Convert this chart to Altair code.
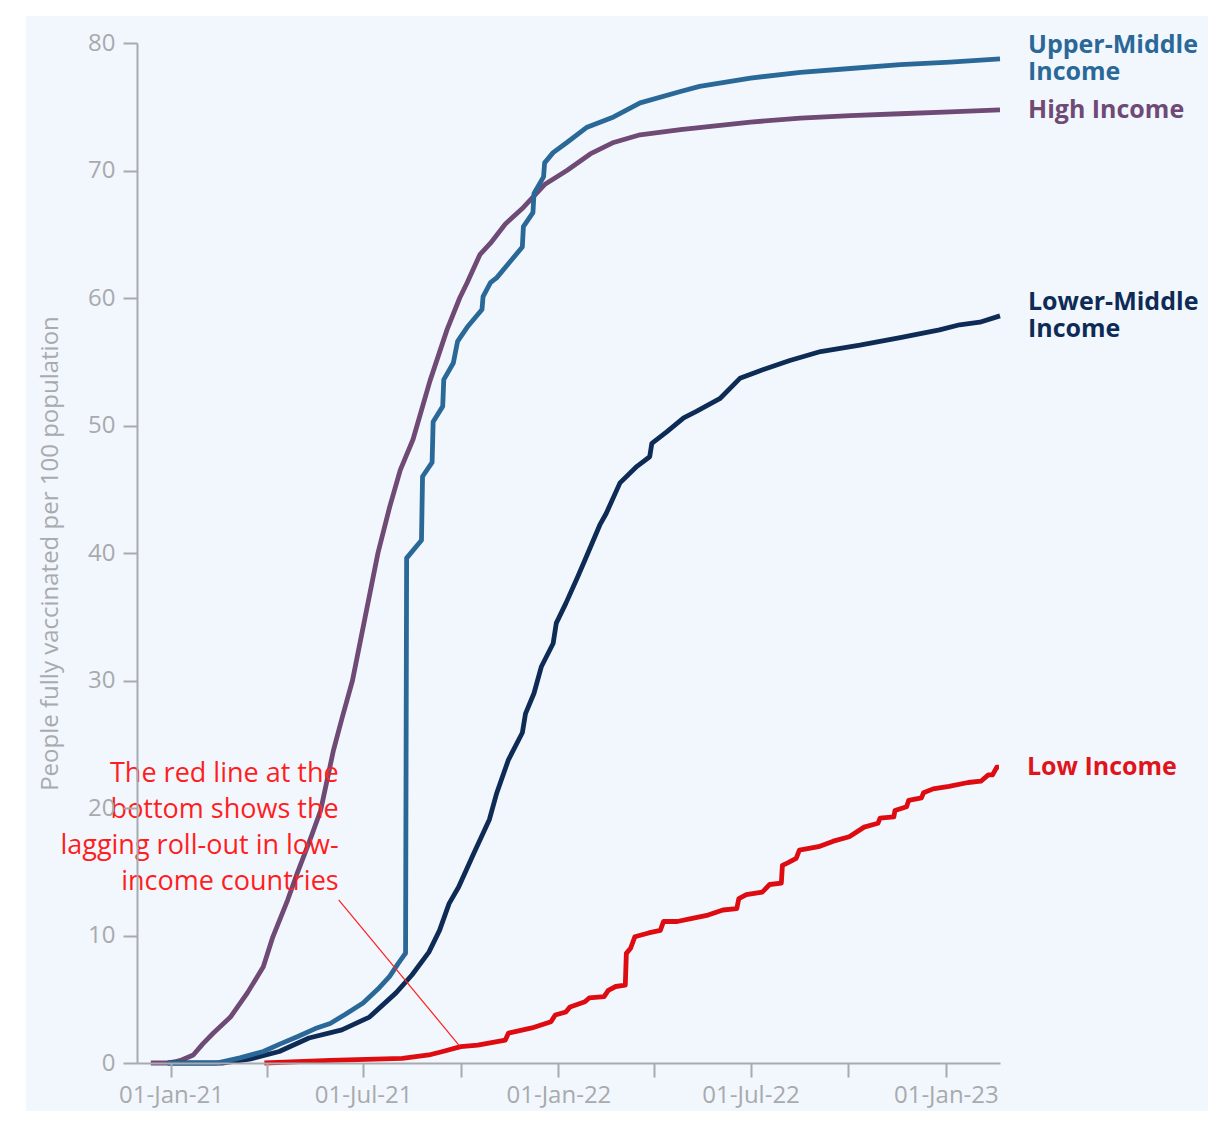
import altair as alt
import pandas as pd

# ---------------- data ----------------
high_dates = ["2020-12-13", "2020-12-29", "2021-01-05", "2021-01-10", "2021-01-22", "2021-01-31",
              "2021-02-10", "2021-02-26", "2021-03-14", "2021-03-29", "2021-04-07", "2021-04-21",
              "2021-04-30", "2021-05-12", "2021-05-22", "2021-06-03", "2021-06-11", "2021-06-21",
              "2021-07-03", "2021-07-15", "2021-07-26", "2021-08-05", "2021-08-17", "2021-09-02",
              "2021-09-18", "2021-09-30", "2021-10-07", "2021-10-19", "2021-10-29", "2021-11-12",
              "2021-11-29", "2021-12-19", "2022-01-09", "2022-01-31", "2022-02-22", "2022-03-19",
              "2022-04-26", "2022-07-01", "2022-08-17", "2022-10-03", "2022-11-19", "2023-01-05",
              "2023-02-21"]
high_vals = [0, 0, 0.1, 0.2, 0.63, 1.5,
             2.35, 3.6, 5.5, 7.55, 9.9, 12.8,
             14.9, 17.5, 19.8, 24.5, 27.0, 30.0,
             35.0, 40.0, 43.6, 46.5, 48.9, 53.5,
             57.5, 60.0, 61.2, 63.4, 64.3, 65.8,
             67.1, 68.9, 70.0, 71.3, 72.2, 72.8,
             73.2, 73.8, 74.1, 74.3, 74.45, 74.6,
             74.75]

upper_dates = ["2020-12-29", "2021-02-13", "2021-03-07", "2021-03-29", "2021-04-14", "2021-04-30",
               "2021-05-17", "2021-05-31", "2021-06-14", "2021-07-01", "2021-07-15", "2021-07-26",
               "2021-08-03", "2021-08-09", "2021-08-10", "2021-08-11", "2021-08-25", "2021-08-26",
               "2021-09-04", "2021-09-05", "2021-09-14", "2021-09-15", "2021-09-24", "2021-09-28",
               "2021-10-07", "2021-10-21", "2021-10-22", "2021-10-29", "2021-11-04", "2021-11-16",
               "2021-11-28", "2021-11-29", "2021-12-08", "2021-12-09", "2021-12-18", "2021-12-19",
               "2021-12-27", "2022-01-09", "2022-01-28", "2022-02-22", "2022-03-19", "2022-04-26",
               "2022-05-14", "2022-07-01", "2022-08-17", "2022-10-03", "2022-11-19", "2023-01-05",
               "2023-02-21"]
upper_vals = [0, 0, 0.4, 0.9, 1.5, 2.06,
              2.7, 3.1, 3.8, 4.7, 5.8, 6.8,
              7.8, 8.5, 8.6, 39.6, 41.0, 46.0,
              47.1, 50.3, 51.5, 53.6, 54.9, 56.6,
              57.7, 59.1, 60.1, 61.2, 61.6, 62.8,
              64.0, 65.6, 66.7, 68.2, 69.5, 70.6,
              71.4, 72.2, 73.4, 74.2, 75.3, 76.2,
              76.6, 77.25, 77.7, 78.0, 78.3, 78.5,
              78.75]

lower_dates = ["2020-12-29", "2021-02-18", "2021-03-16", "2021-04-13", "2021-05-11", "2021-06-11",
               "2021-07-07", "2021-08-01", "2021-08-16", "2021-09-01", "2021-09-11", "2021-09-20",
               "2021-09-29", "2021-10-13", "2021-10-28", "2021-11-04", "2021-11-15", "2021-11-28",
               "2021-12-01", "2021-12-09", "2021-12-16", "2021-12-27", "2021-12-30", "2022-01-08",
               "2022-01-19", "2022-01-26", "2022-02-09", "2022-02-15", "2022-02-28", "2022-03-16",
               "2022-03-28", "2022-03-30", "2022-04-13", "2022-04-29", "2022-05-11", "2022-06-02",
               "2022-06-21", "2022-07-10", "2022-08-07", "2022-09-05", "2022-10-12", "2022-11-19",
               "2022-12-26", "2023-01-14", "2023-02-02", "2023-02-21"]
lower_vals = [0, 0, 0.3, 0.9, 1.96, 2.6,
              3.6, 5.5, 6.9, 8.7, 10.4, 12.5,
              13.8, 16.4, 19.1, 21.2, 23.8, 25.9,
              27.4, 29.0, 31.1, 32.9, 34.5, 36.05,
              38.1, 39.45, 42.2, 43.1, 45.5, 46.8,
              47.55, 48.6, 49.5, 50.6, 51.1, 52.1,
              53.7, 54.3, 55.1, 55.8, 56.3, 56.9,
              57.5, 57.9, 58.1, 58.6]

low_dates = ["2021-03-30", "2021-05-31", "2021-08-07", "2021-09-01", "2021-09-14", "2021-10-01",
             "2021-10-17", "2021-11-12", "2021-11-15", "2021-12-07", "2021-12-25", "2021-12-29",
             "2022-01-08", "2022-01-12", "2022-01-26", "2022-01-30", "2022-02-13", "2022-02-17",
             "2022-02-24", "2022-03-05", "2022-03-06", "2022-03-10", "2022-03-14", "2022-03-27",
             "2022-04-07", "2022-04-10", "2022-04-23", "2022-05-07", "2022-05-22", "2022-06-05",
             "2022-06-18", "2022-06-20", "2022-06-27", "2022-07-12", "2022-07-19", "2022-07-30",
             "2022-07-31", "2022-08-05", "2022-08-13", "2022-08-16", "2022-09-03", "2022-09-17",
             "2022-10-02", "2022-10-16", "2022-10-29", "2022-10-31", "2022-11-13", "2022-11-14",
             "2022-11-25", "2022-11-27", "2022-12-09", "2022-12-11", "2022-12-20", "2023-01-04",
             "2023-01-22", "2023-02-03", "2023-02-10", "2023-02-14", "2023-02-18", "2023-02-20"]
low_vals = [0, 0.2, 0.37, 0.63, 0.9, 1.28,
            1.41, 1.8, 2.35, 2.75, 3.24, 3.76,
            4.0, 4.4, 4.8, 5.1, 5.2, 5.7,
            6.0, 6.1, 8.6, 9.0, 9.9, 10.2,
            10.4, 11.1, 11.1, 11.35, 11.6, 12.0,
            12.1, 12.9, 13.2, 13.4, 14.0, 14.1,
            15.5, 15.7, 16.05, 16.7, 16.97, 17.4,
            17.75, 18.5, 18.8, 19.2, 19.3, 19.8,
            20.1, 20.6, 20.8, 21.2, 21.5, 21.7,
            22.0, 22.1, 22.6, 22.6, 23.2, 23.2]

series_names = ["High Income", "Lower-Middle Income", "Upper-Middle Income", "Low Income"]
series_labels = ["High Income", "Lower-Middle\nIncome", "Upper-Middle\nIncome", "Low Income"]
series_lines = [1, 2, 2, 1]
series_colors = ["#6E4A75", "#0E2B56", "#2A6898", "#DE0B10"]
label_colors = ["#6E4A75", "#0E2B56", "#2A6898", "#E0141B"]

y_ticks = [0, 10, 20, 30, 40, 50, 60, 70, 80]
x_tick_months = [(2021, 1), (2021, 4), (2021, 7), (2021, 10), (2022, 1), (2022, 4),
                 (2022, 7), (2022, 10), (2023, 1)]

note_lines = "The red line at the\nbottom shows the\nlagging roll-out in low-\nincome countries"
note_anchor = ("2021-06-08", 22.05)
note_leader = ("2021-06-08", 12.8, "2021-09-30", 1.33)

AXIS_GREY = "#A8AAAD"
FONT = "Open Sans"

# ---------------- build ----------------
all_dates = [high_dates, lower_dates, upper_dates, low_dates]
all_vals = [high_vals, lower_vals, upper_vals, low_vals]

x_scale = alt.Scale(domain=[alt.DateTime(year=2020, month=11, date=30),
                            alt.DateTime(year=2023, month=2, date=21)])
y_scale = alt.Scale(domain=[0, 80], nice=False)

x_axis = alt.Axis(
    values=[alt.DateTime(year=y, month=m, date=1) for y, m in x_tick_months],
    labelExpr="(month(datum.value) % 6 == 0) ? timeFormat(datum.value, '%d-%b-%y') : ''",
    title=None, grid=False, domainColor=AXIS_GREY, domainWidth=2,
    tickColor=AXIS_GREY, tickWidth=2, tickSize=14, labelPadding=6,
    labelColor=AXIS_GREY, labelFontSize=24, labelFont=FONT, labelFlush=False,
    zindex=1,
)
y_axis = alt.Axis(
    values=y_ticks, title="People fully vaccinated per 100 population",
    grid=False, domainColor=AXIS_GREY, domainWidth=2,
    tickColor=AXIS_GREY, tickWidth=2, tickSize=14, labelPadding=8,
    labelColor=AXIS_GREY, labelFontSize=24, labelFont=FONT,
    titleColor=AXIS_GREY, titleFontSize=24, titleFont=FONT, titleFontWeight="normal",
    titleAngle=270, titleX=-80, titleY=510, titleAlign="center", titleBaseline="alphabetic",
    zindex=1,
)


def xenc(field):
    return alt.X(field, scale=x_scale, axis=x_axis)


def yenc(field):
    return alt.Y(field, scale=y_scale, axis=y_axis)


bg = alt.Chart(alt.Data(values=[{}])).mark_rect(color="#F2F7FE").encode(
    x=alt.value(-111), x2=alt.value(1100), y=alt.value(-27), y2=alt.value(1100)
)

layers = [bg]
for i, name in enumerate(series_names):
    df = pd.DataFrame({"date": all_dates[i], "value": all_vals[i]})
    layers.append(alt.Chart(df).mark_line(color=series_colors[i], strokeWidth=4.8,
                                          strokeJoin="round", strokeCap="butt").encode(
        x=xenc("date:T"), y=yenc("value:Q")))

end_df = pd.DataFrame({
    "date": [d[-1] for d in all_dates],
    "value": [v[-1] for v in all_vals],
    "label": series_labels,
    "color": label_colors,
    "lines": series_lines,
})
for n, shift in [(1, 0), (2, -13.5)]:
    layers.append(alt.Chart(end_df).transform_filter(alt.datum.lines == n).mark_text(
        align="left", baseline="middle", dx=28, dy=shift, fontSize=25, fontWeight="bold",
        font=FONT, lineBreak="\n", lineHeight=27,
    ).encode(
        x=xenc("date:T"), y=yenc("value:Q"),
        text="label:N",
        color=alt.Color("color:N", scale=None),
    ))

leader_df = pd.DataFrame({"d1": [note_leader[0]], "v1": [note_leader[1]],
                          "d2": [note_leader[2]], "v2": [note_leader[3]]})
leader = alt.Chart(leader_df).mark_rule(color="#FF1E1E", strokeWidth=1.2).encode(
    x=xenc("d1:T"), y=yenc("v1:Q"), x2="d2:T", y2="v2:Q",
)

note_df = pd.DataFrame({"date": [note_anchor[0]], "value": [note_anchor[1]], "text": [note_lines]})
note = alt.Chart(note_df).mark_text(
    align="right", baseline="alphabetic", fontSize=27, font=FONT, color="#FF1E1E",
    lineBreak="\n", lineHeight=36,
).encode(x=xenc("date:T"), y=yenc("value:Q"), text="text:N")
layers += [leader, note]

chart = alt.layer(*layers).properties(
    width=863, height=1020,
    autosize=alt.AutoSizeParams(type="none"),
    padding={"left": 129, "top": 35, "right": 208, "bottom": 48},
    background="#FFFFFF",
).configure_view(strokeWidth=0)

chart.save("out.html", embed_options={"renderer": "svg", "actions": False})
